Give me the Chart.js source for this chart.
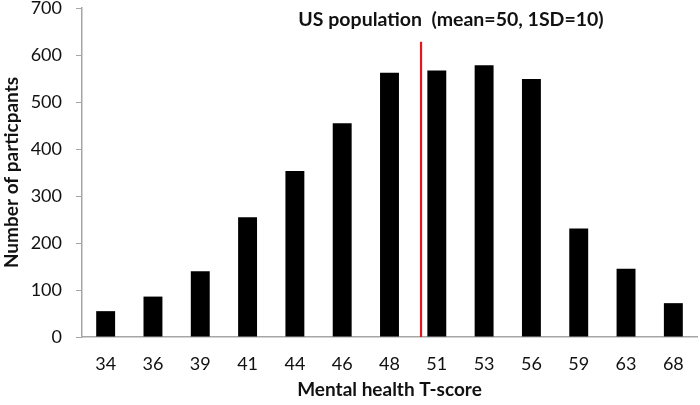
<!DOCTYPE html>
<html>
<head>
<meta charset="utf-8">
<script src="https://cdn.jsdelivr.net/npm/chart.js@4"></script>
<style>
  html, body { margin: 0; padding: 0; background: #fff; }
  #wrap { width: 700px; height: 405px; }
</style>
</head>
<body>
<div id="wrap"><canvas id="chart" width="700" height="405"></canvas></div>
<script>
// T-score bins and number of participants per bin
const scores = ['34', '36', '39', '41', '44', '46', '48', '51', '53', '56', '59', '63', '68'];
const participants = [55, 86, 140, 255, 353, 455, 562, 567, 578, 549, 231, 145, 72];
const yTicks = [0, 100, 200, 300, 400, 500, 600, 700];

// US population reference line
const populationMean = 50;
const meanLineTop = 628;
const titleText = 'US population  (mean=50, 1SD=10)';

const font = 'Lato, "Open Sans", sans-serif';

// place the mean between the two neighbouring bins
function meanIndex() {
    const nums = scores.map(Number);
    for (let i = 0; i < nums.length - 1; i++) {
        if (populationMean >= nums[i] && populationMean <= nums[i + 1]) {
            return i + (populationMean - nums[i]) / (nums[i + 1] - nums[i]);
        }
    }
    return 0;
}

const meanLine = {
    id: 'meanLine',
    afterDatasetsDraw(chart) {
        const ctx = chart.ctx;
        const x = chart.scales.x.getPixelForValue(meanIndex());
        const y0 = chart.scales.y.getPixelForValue(0);
        const y1 = chart.scales.y.getPixelForValue(meanLineTop);
        ctx.save();
        ctx.strokeStyle = '#e5161c';
        ctx.lineWidth = 2.2;
        ctx.beginPath();
        ctx.moveTo(x, y0);
        ctx.lineTo(x, y1);
        ctx.stroke();

        // title sits inside the plot, above the bars
        ctx.fillStyle = '#111';
        ctx.font = 'bold 19.5px ' + font;
        ctx.textAlign = 'center';
        ctx.textBaseline = 'middle';
        ctx.fillText(titleText, x + 30, chart.chartArea.top + 12);
        ctx.restore();
    }
};

new Chart(document.getElementById('chart').getContext('2d'), {
    type: 'bar',
    data: {
        labels: scores,
        datasets: [{
            data: participants,
            backgroundColor: '#000',
            borderWidth: 0,
            categoryPercentage: 1,
            barPercentage: 0.4
        }]
    },
    options: {
        responsive: false,
        animation: false,
        layout: { padding: { top: 8, right: 3, left: 0, bottom: 0 } },
        plugins: {
            legend: { display: false },
            tooltip: { enabled: false }
        },
        scales: {
            x: {
                grid: { display: false },
                border: { display: true, color: '#a6a6a6', width: 1.5 },
                ticks: { color: '#111', font: { family: font, size: 18 }, padding: 8, maxRotation: 0 },
                title: {
                    display: true,
                    text: 'Mental health T-score',
                    color: '#111',
                    font: { family: font, size: 19, weight: 'bold' },
                    padding: { top: 0, bottom: 4 }
                },
                afterFit(scale) { scale.height = 68; }
            },
            y: {
                min: 0,
                max: 700,
                afterBuildTicks(scale) { scale.ticks = yTicks.map(v => ({ value: v })); },
                grid: { drawOnChartArea: false, drawTicks: true, tickLength: 6, color: '#a6a6a6' },
                border: { display: true, color: '#a6a6a6', width: 1.5 },
                ticks: { color: '#111', font: { family: font, size: 18 }, padding: 14 },
                title: {
                    display: true,
                    text: 'Number of particpants',
                    color: '#111',
                    font: { family: font, size: 19, weight: 'bold' },
                    padding: { top: 0, bottom: 2 }
                },
                afterFit(scale) {
                    scale.width = 82;
                    scale.paddingTop = 0;
                    scale.paddingBottom = 0;
                }
            }
        }
    },
    plugins: [meanLine]
});
</script>
</body>
</html>
